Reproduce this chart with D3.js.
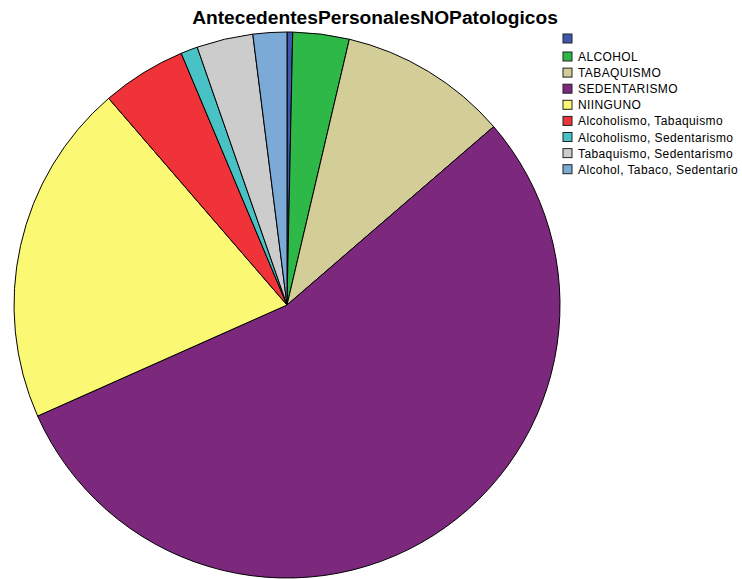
<!DOCTYPE html>
<html>
<head>
<meta charset="utf-8">
<script src="https://cdn.jsdelivr.net/npm/d3@7/dist/d3.min.js"></script>
<style>
  html, body { margin: 0; padding: 0; background: #fff; }
  svg { display: block; }
</style>
</head>
<body>
<svg id="chart" width="742" height="579"></svg>
<script>
// Antecedentes personales no patológicos (frecuencias)
const categories = ["", "ALCOHOL", "TABAQUISMO", "SEDENTARISMO", "NIINGUNO",
  "Alcoholismo, Tabaquismo", "Alcoholismo, Sedentarismo",
  "Tabaquismo, Sedentarismo", "Alcohol, Tabaco, Sedentario"];
const counts = [1, 10, 30, 164, 61, 15, 3, 10, 6];
const colors = ["#3E58AC", "#2EB848", "#D3CE97", "#7C287D", "#FBF873",
  "#EF3338", "#48C2C5", "#CCCCCC", "#7AAAD5"];
const title = "AntecedentesPersonalesNOPatologicos";

const svg = d3.select("#chart");
const cx = 287, cy = 305, radius = 273;

const data = categories.map((c, i) => ({ label: c, value: counts[i], color: colors[i] }));

const pie = d3.pie().value(d => d.value).sort(null);
const arc = d3.arc().innerRadius(0).outerRadius(radius);

svg.append("g")
  .attr("transform", `translate(${cx},${cy})`)
  .selectAll("path")
  .data(pie(data))
  .join("path")
  .attr("d", arc)
  .attr("fill", d => d.data.color)
  .attr("stroke", "#000")
  .attr("stroke-width", 1)
  .attr("stroke-linejoin", "round");

svg.append("text")
  .attr("x", 375)
  .attr("y", 24)
  .attr("text-anchor", "middle")
  .attr("font-family", "Liberation Sans, Arial, sans-serif")
  .attr("font-weight", "bold")
  .attr("font-size", 19.2)
  .attr("fill", "#000")
  .text(title);

// Legend
const legend = svg.append("g");
const rowY = i => i === 0 ? 34 : 52 + (i - 1) * 16.1;
const rows = legend.selectAll("g").data(data).join("g")
  .attr("transform", (d, i) => `translate(563,${rowY(i)})`);
rows.append("rect")
  .attr("x", 0).attr("y", 0)
  .attr("width", 9).attr("height", 9)
  .attr("fill", d => d.color)
  .attr("stroke", "#222")
  .attr("stroke-width", 1);
rows.append("text")
  .attr("x", 15)
  .attr("y", 9)
  .attr("font-family", "Liberation Sans, Arial, sans-serif")
  .attr("font-size", 12)
  .attr("letter-spacing", 0.4)
  .attr("fill", "#000")
  .text(d => d.label);
</script>
</body>
</html>
